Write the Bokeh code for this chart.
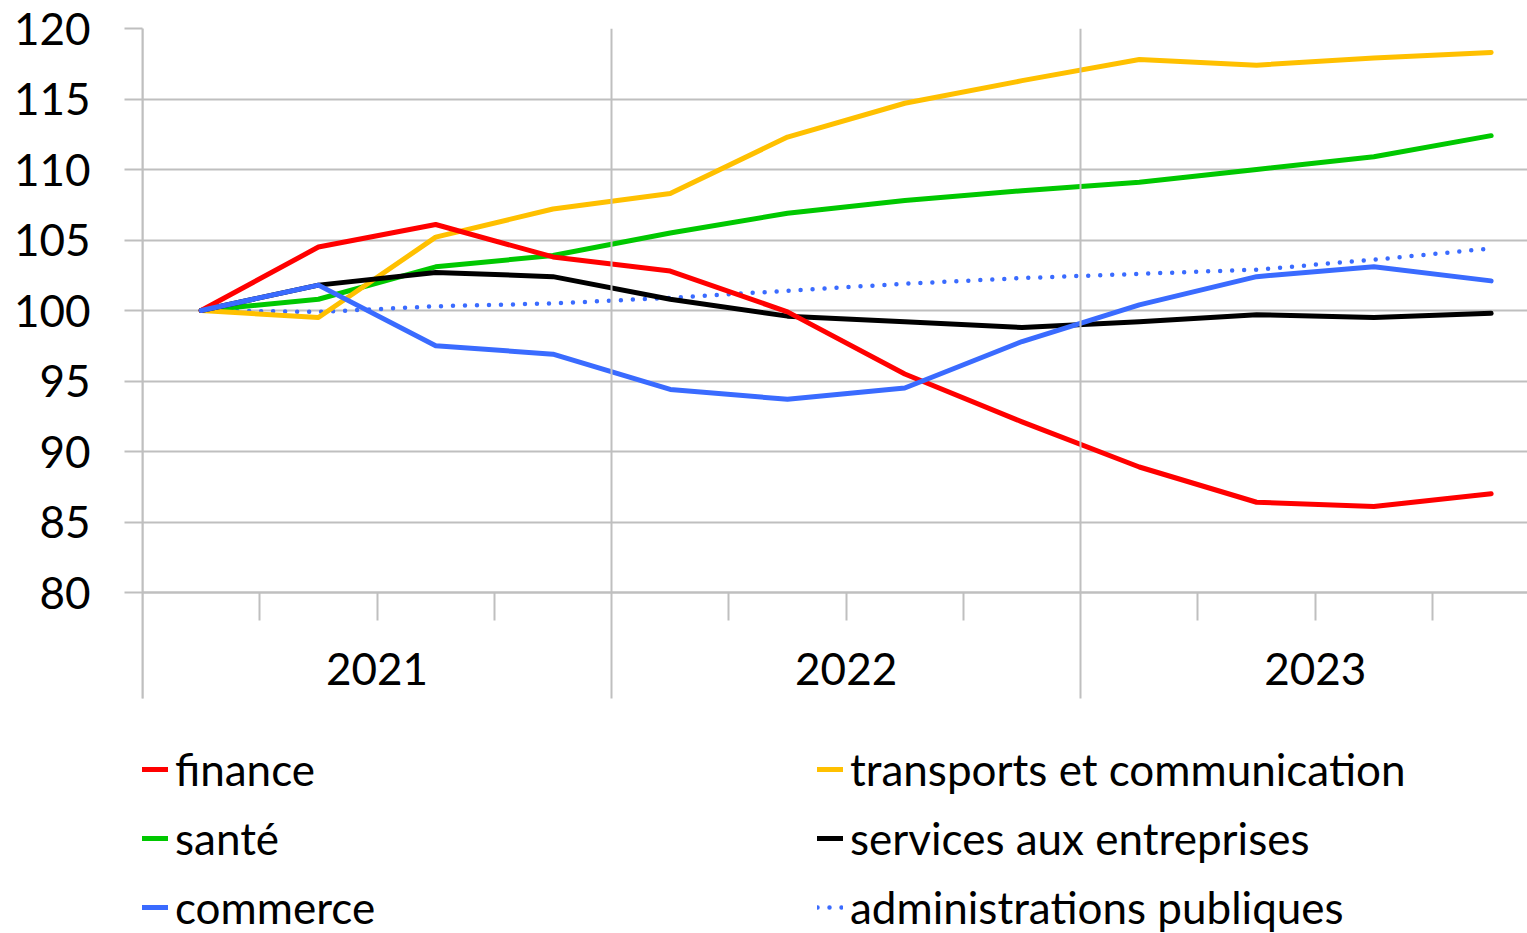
from bokeh.plotting import figure
from bokeh.models import Range1d, FixedTicker, Legend, LegendItem, Label
from bokeh.embed import file_html
from bokeh.resources import INLINE

# ---- data ----
periods = ["2021T1", "2021T2", "2021T3", "2021T4",
           "2022T1", "2022T2", "2022T3", "2022T4",
           "2023T1", "2023T2", "2023T3", "2023T4"]
years = ["2021", "2022", "2023"]
y_ticks = [80, 85, 90, 95, 100, 105, 110, 115, 120]

finance = [100, 104.5, 106.1, 103.8, 102.8, 99.9, 95.5, 92.1, 88.9, 86.4, 86.1, 87.0]
transports = [100, 99.5, 105.2, 107.2, 108.3, 112.3, 114.7, 116.3, 117.8, 117.4, 117.9, 118.3]
sante = [100, 100.8, 103.1, 103.9, 105.5, 106.9, 107.8, 108.5, 109.1, 110.0, 110.9, 112.4]
services = [100, 101.8, 102.7, 102.4, 100.8, 99.6, 99.2, 98.8, 99.2, 99.7, 99.5, 99.8]
commerce = [100, 101.8, 97.5, 96.9, 94.4, 93.7, 94.5, 97.8, 100.4, 102.4, 103.1, 102.1]
administrations = [100, 99.9, 100.3, 100.5, 100.9, 101.4, 101.9, 102.3, 102.6, 102.9, 103.6, 104.4]

FONT = "Lato"
GRID = "#bfbfbf"

xs = list(range(len(periods)))
n_per_year = 4
y_min, y_max = y_ticks[0], y_ticks[-1]

# frame covers the chart, the category band and the legend area
FRAME_H = 905
PX_PER_UNIT = 564 / (y_max - y_min)
y_start = y_max - FRAME_H / PX_PER_UNIT
band_bottom = y_min - 106 / PX_PER_UNIT
label_y = y_min - 76 / PX_PER_UNIT

p = figure(frame_width=1385, frame_height=FRAME_H, output_backend="svg", toolbar_location=None,
           x_range=Range1d(-0.5, 11.31), y_range=Range1d(y_start, y_max),
           min_border_left=142, min_border_right=0, min_border_top=28,
           min_border_bottom=0)
p.outline_line_color = None
p.background_fill_color = "white"
p.border_fill_color = "white"

year_bounds = [i * n_per_year - 0.5 for i in range(len(years))]
minor_bounds = [i - 0.5 for i in range(1, len(periods)) if i % n_per_year != 0]
year_centers = [i * n_per_year + (n_per_year - 1) / 2 for i in range(len(years))]

# horizontal grid
p.xgrid.visible = False
p.ygrid.ticker = FixedTicker(ticks=y_ticks)
p.ygrid.grid_line_color = GRID
p.ygrid.grid_line_width = 2

# x axis at y=80: long year separators (up through the chart, down through the band),
# short quarter separators
xa = p.xaxis[0]
xa.fixed_location = y_min
xa.ticker = FixedTicker(ticks=year_bounds, minor_ticks=minor_bounds)
xa.major_label_overrides = {b: "" for b in year_bounds}
xa.major_label_text_font_size = "1px"
xa.major_tick_in = 564
xa.major_tick_out = 106
xa.major_tick_line_color = GRID
xa.major_tick_line_width = 2
xa.minor_tick_out = 28
xa.minor_tick_in = 0
xa.minor_tick_line_color = GRID
xa.minor_tick_line_width = 2
xa.axis_line_color = GRID
xa.axis_line_width = 2

# y axis
ya = p.yaxis[0]
ya.bounds = (band_bottom, y_max)
ya.ticker = FixedTicker(ticks=y_ticks)
ya.major_tick_out = 18
ya.major_tick_in = 0
ya.minor_tick_line_color = None
ya.major_tick_line_color = GRID
ya.major_tick_line_width = 2
ya.axis_line_color = GRID
ya.axis_line_width = 2
ya.major_label_standoff = 34
ya.major_label_text_font = FONT
ya.major_label_text_font_size = "44px"
ya.major_label_text_color = "black"

# year labels
for c, yr in zip(year_centers, years):
    p.add_layout(Label(x=c, y=label_y, text=yr, text_align="center",
                       text_baseline="middle", text_font=FONT,
                       text_font_size="44px", text_color="black"))

series = [
    ("finance", finance, "#ff0000", "solid"),
    ("santé", sante, "#00c800", "solid"),
    ("commerce", commerce, "#3a6bff", "solid"),
    ("transports et communication", transports, "#ffc000", "solid"),
    ("services aux entreprises", services, "#000000", "solid"),
    ("administrations publiques", administrations, "#3a6bff", "0 12"),
]
draw_order = ["administrations publiques", "santé", "transports et communication",
              "services aux entreprises", "finance", "commerce"]
renderers = {}
for name in draw_order:
    _, vals, col, dash = next(s for s in series if s[0] == name)
    r = p.line(xs, vals, line_color=col, line_width=5 if dash == "solid" else 4.5,
               line_dash=dash, line_cap="round", line_join="round")
    renderers[name] = r

items = [LegendItem(label=name, renderers=[renderers[name]]) for name, *_ in series]
legend = Legend(items=items, orientation="vertical", nrows=3,
                location=(0, 0), padding=0, margin=0, spacing=17,
                glyph_width=26, glyph_height=20, label_standoff=7, label_width=625,
                label_text_font=FONT, label_text_font_size="44px",
                label_text_color="black", border_line_color=None,
                background_fill_alpha=0)
p.add_layout(legend, "center")

open("out.html", "w").write(file_html(p, INLINE))
